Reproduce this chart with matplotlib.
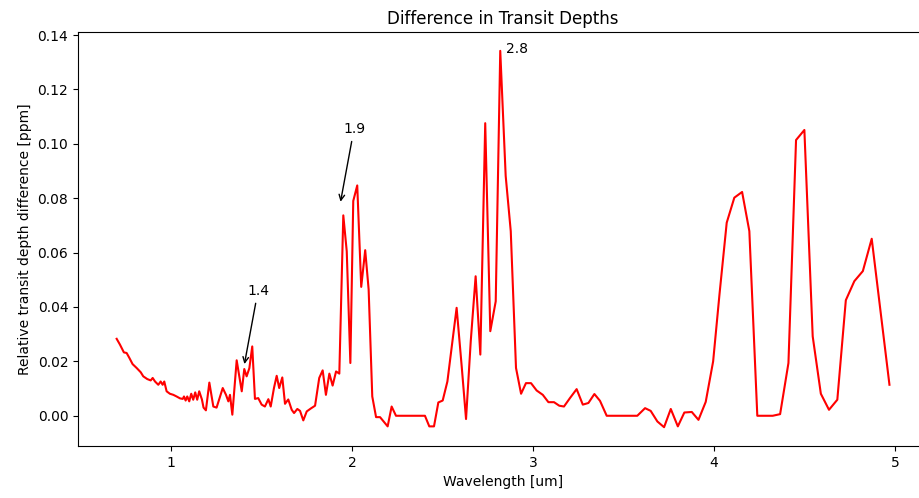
import matplotlib
matplotlib.use('Agg')
import matplotlib.pyplot as plt

# wavelength grid [um] and transit depth difference
wavelength = [
    0.700, 0.718, 0.740, 0.755, 0.770, 0.788, 0.810, 0.833, 0.847, 0.869,
    0.888, 0.899, 0.912, 0.930, 0.943, 0.954, 0.963, 0.976, 0.994, 1.013,
    1.031, 1.050, 1.065, 1.072, 1.081, 1.090, 1.101, 1.112, 1.123, 1.134,
    1.145, 1.156, 1.171, 1.180, 1.193, 1.212, 1.234, 1.252, 1.286, 1.304,
    1.317, 1.326, 1.339, 1.363, 1.391, 1.405, 1.418, 1.433, 1.449, 1.464,
    1.482, 1.501, 1.519, 1.538, 1.551, 1.569, 1.584, 1.598, 1.615, 1.630,
    1.648, 1.667, 1.680, 1.698, 1.713, 1.731, 1.750, 1.773, 1.796, 1.819,
    1.838, 1.856, 1.875, 1.893, 1.912, 1.930, 1.952, 1.971, 1.991, 2.007,
    2.029, 2.051, 2.073, 2.092, 2.112, 2.133, 2.155, 2.197, 2.219, 2.243,
    2.403, 2.427, 2.453, 2.477, 2.501, 2.527, 2.556, 2.578, 2.606, 2.630,
    2.656, 2.683, 2.709, 2.736, 2.764, 2.794, 2.819, 2.849, 2.877, 2.906,
    2.934, 2.961, 2.989, 3.020, 3.054, 3.085, 3.116, 3.145, 3.171, 3.204,
    3.241, 3.275, 3.306, 3.339, 3.370, 3.407, 3.576, 3.619, 3.650, 3.687,
    3.724, 3.761, 3.800, 3.836, 3.877, 3.914, 3.954, 3.995, 4.030, 4.070,
    4.112, 4.155, 4.195, 4.239, 4.324, 4.365, 4.411, 4.453, 4.499, 4.545,
    4.590, 4.635, 4.681, 4.728, 4.775, 4.822, 4.871, 4.921, 4.969,
]
depth_diff = [
    0.0283, 0.0262, 0.0233, 0.0231, 0.0213, 0.0190, 0.0176, 0.0160, 0.0145, 0.0135,
    0.0130, 0.0139, 0.0126, 0.0114, 0.0126, 0.0114, 0.0126, 0.0090, 0.0081, 0.0077,
    0.0071, 0.0064, 0.0062, 0.0071, 0.0056, 0.0071, 0.0053, 0.0081, 0.0059, 0.0086,
    0.0059, 0.0090, 0.0060, 0.0030, 0.0020, 0.0122, 0.0034, 0.0030, 0.0102, 0.0077,
    0.0053, 0.0077, 0.0004, 0.0204, 0.0090, 0.0172, 0.0145, 0.0175, 0.0255, 0.0062,
    0.0065, 0.0041, 0.0034, 0.0061, 0.0034, 0.0102, 0.0147, 0.0102, 0.0141, 0.0044,
    0.0060, 0.0022, 0.0010, 0.0025, 0.0018, -0.0017, 0.0016, 0.0027, 0.0037, 0.0139,
    0.0167, 0.0077, 0.0155, 0.0111, 0.0163, 0.0155, 0.0737, 0.0605, 0.0194, 0.0790,
    0.0847, 0.0474, 0.0609, 0.0464, 0.0071, -0.0005, -0.0005, -0.0039, 0.0034, 0.0000,
    0.0000, -0.0039, -0.0039, 0.0049, 0.0056, 0.0126, 0.0280, 0.0397, 0.0182, -0.0012,
    0.0274, 0.0513, 0.0225, 0.1076, 0.0311, 0.0421, 0.1342, 0.0882, 0.0679, 0.0176,
    0.0081, 0.0120, 0.0120, 0.0093, 0.0077, 0.0050, 0.0050, 0.0037, 0.0034, 0.0065,
    0.0098, 0.0041, 0.0047, 0.0080, 0.0055, 0.0000, 0.0000, 0.0028, 0.0018, -0.0021,
    -0.0042, 0.0025, -0.0039, 0.0012, 0.0014, -0.0015, 0.0051, 0.0200, 0.0446, 0.0710,
    0.0802, 0.0823, 0.0679, 0.0000, 0.0000, 0.0006, 0.0194, 0.1014, 0.1051, 0.0292,
    0.0081, 0.0022, 0.0059, 0.0425, 0.0495, 0.0532, 0.0651, 0.0378, 0.0114,
]

# annotated features: label, arrow tip, text position
notes = [
    ('1.4', (1.403, 0.0180), (1.42, 0.0445)),
    ('1.9', (1.934, 0.0777), (1.95, 0.1040)),
]

fig = plt.figure(figsize=(9.2, 4.98), dpi=100)
# the right edge of the axes runs past the figure, as in the original
ax = fig.add_axes([0.0848, 0.1044, 0.924, 0.8313])

ax.plot(wavelength, depth_diff, color='red')

for label, tip, text_pos in notes:
    ax.annotate(label, xy=tip, xytext=text_pos,
                arrowprops=dict(arrowstyle='->', color='black'))
ax.text(2.85, 0.1335, '2.8')

ax.set_title('Difference in Transit Depths')
ax.set_xlabel('Wavelength [um]')
ax.set_ylabel('Relative transit depth difference [ppm]')

fig.savefig('out.png', dpi=100)
